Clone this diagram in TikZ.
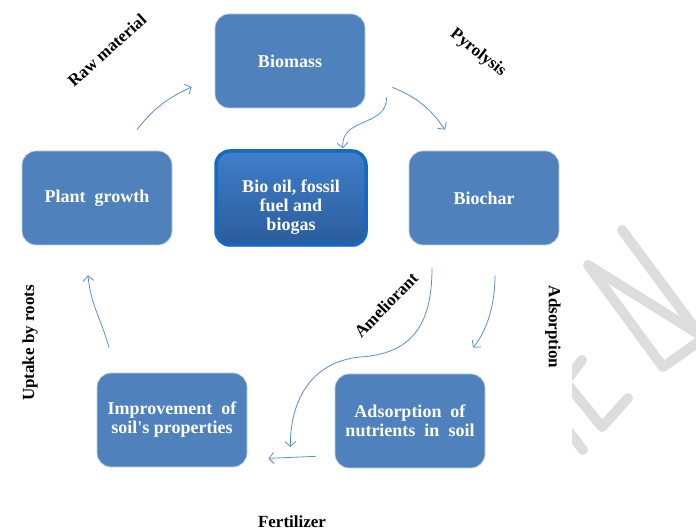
\documentclass[tikz,border=0pt]{standalone}
\usepackage{fontspec}
\setmainfont{Liberation Serif}
\usetikzlibrary{arrows.meta,positioning,shadows}
\definecolor{BoxBlue}{HTML}{4F81BD}
\definecolor{DeepBlue}{HTML}{1569C0}
\definecolor{FuelTop}{HTML}{3F7FCB}
\definecolor{FuelBottom}{HTML}{2B5C9C}
\definecolor{ArrowBlue}{HTML}{5B8ED0}
\definecolor{MarkGray}{HTML}{DDDDDD}

\begin{document}
\begin{tikzpicture}[x=1pt, y=1pt,
  box/.style={draw=white!65!BoxBlue, line width=0.7pt, rounded corners=14pt, fill=BoxBlue,
    minimum width=150pt, minimum height=94pt, align=center, text=white,
    font=\fontsize{18}{19}\selectfont\bfseries},
  fuelbox/.style={box, draw=DeepBlue, line width=3.5pt, top color=FuelTop, bottom color=FuelBottom,
    drop shadow={shadow xshift=1.5pt, shadow yshift=-2pt, opacity=0.35}},
  arr/.style={-{Straight Barb[length=5pt, width=11pt]}, line width=0.8pt, ArrowBlue},
  lbl/.style={font=\fontsize{17}{19}\selectfont\bfseries, text=black}
]
\useasboundingbox (0,0) rectangle (696,532);

% faint watermark strokes at the right edge
\begin{scope}[MarkGray, line width=10pt, line cap=round, line join=round]
  \clip (572,0) rectangle (696,532);
  \draw (622,302) -- (700,197) -- (588,267) -- (663,165) -- (720,205);
  \draw (582,172) -- (560,143);
  \draw (560,157) -- (602,105) -- (628,134);
  \draw (560,112) -- (583,82);
\end{scope}

% boxes
\node[box] (bm) at (290,471) {Biomass};
\node[box] (pg) at (97,334) {Plant\ \ growth};
\node[fuelbox] (fuel) at (291,334) {\rule{0pt}{30pt}Bio oil, fossil\\fuel and\\biogas};
\node[box] (bc) at (484,334) {Biochar};
\node[box] (imp) at (172,112) {Improvement\ \ of\\soil\textquotesingle s properties};
\node[box] (ads) at (410,111) {Adsorption\ \ of\\nutrients\ \ in\ \ soil};

% connectors
\draw[arr] ([shift={(40,21)}]pg.north) to[out=52,in=205] ([shift={(-23,-26)}]bm.west);
\draw[arr] ([shift={(27,21)}]bm.south east) to[out=-22,in=125] ([shift={(-39,21)}]bc.north);
\draw[arr] ([shift={(21,11)}]bm.south east) .. controls (388,405) and (340,415) .. ([shift={(52,1)}]fuel.north);
\draw[arr] ([shift={(-52,-23)}]bc.south) .. controls (432,205) and (410,178) .. (360,175)
  .. controls (310,170) and (290,130) .. ([shift={(43,-27)}]imp.east);
\draw[arr] ([shift={(11,-30)}]bc.south) .. controls (495,225) and (486,200) .. ([shift={(63,26)}]ads.north);
\draw[arr] ([shift={(-19,12)}]ads.south west) -- ([shift={(21,9)}]imp.south east);
\draw[arr] ([shift={(-63,25)}]imp.north) to[out=105,in=-85] ([shift={(-9,-30)}]pg.south);

% labels
\node[lbl, rotate=42] (raw) at (107,482) {Raw material};
\node[lbl, rotate=-38] (pyr) at (478,479) {Pyrolysis};
\node[lbl, rotate=90] (upt) at (30,189) {Uptake by roots};
\node[lbl, rotate=46] (ame) at (386,227) {Ameliorant};
\node[lbl, rotate=-90] (adl) at (553,205) {Adsorption};
\node[lbl] (fer) at (292,10) {Fertilizer};
\end{tikzpicture}
\end{document}
